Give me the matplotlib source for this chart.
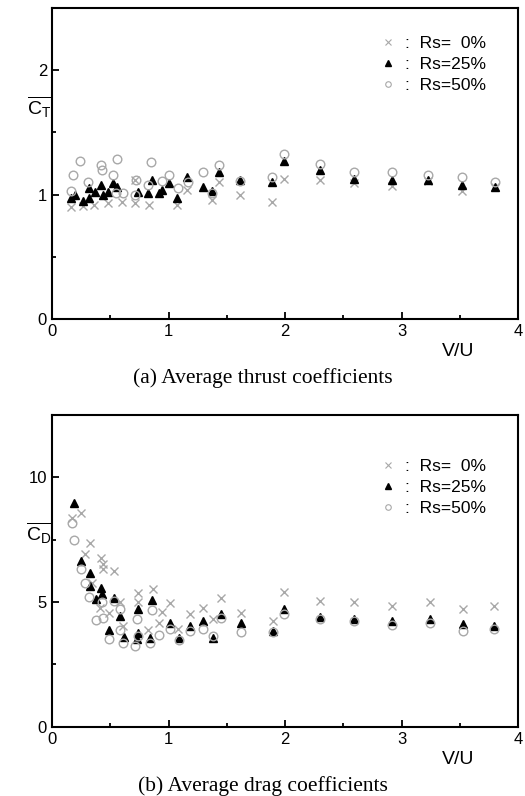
import matplotlib
matplotlib.use('Agg')
import matplotlib.pyplot as plt
from matplotlib.ticker import MultipleLocator

plt.rcParams['font.family'] = ['Liberation Sans', 'DejaVu Sans']
plt.rcParams['mathtext.fontset'] = 'custom'
plt.rcParams['mathtext.rm'] = 'Liberation Sans'
plt.rcParams['mathtext.it'] = 'Liberation Sans'

# (a) average thrust coefficient vs V/U
ct_v0 = [0.16, 0.27, 0.36, 0.48, 0.60, 0.71, 0.71, 0.83, 1.07, 1.16, 1.37, 1.43,
         1.61, 1.89, 1.99, 2.30, 2.59, 2.92, 3.23, 3.52, 3.80]
ct_0 = [0.90, 0.91, 0.92, 0.93, 0.94, 0.93, 1.12, 0.92, 0.92, 1.04, 0.96, 1.10,
        1.00, 0.94, 1.13, 1.12, 1.09, 1.07, 1.11, 1.03, 1.06]
ct_v25 = [0.16, 0.20, 0.27, 0.32, 0.32, 0.37, 0.42, 0.44, 0.48, 0.52, 0.56, 0.74,
          0.82, 0.86, 0.92, 0.94, 1.00, 1.07, 1.16, 1.30, 1.37, 1.43, 1.61, 1.89,
          1.99, 2.30, 2.59, 2.92, 3.23, 3.52, 3.80]
ct_25 = [0.97, 1.00, 0.95, 0.97, 1.05, 1.02, 1.08, 1.00, 1.02, 1.09, 1.06, 1.02,
         1.01, 1.12, 1.01, 1.04, 1.09, 0.97, 1.14, 1.06, 1.03, 1.18, 1.12, 1.10,
         1.27, 1.20, 1.13, 1.12, 1.12, 1.08, 1.06]
ct_v50 = [0.16, 0.18, 0.24, 0.31, 0.42, 0.43, 0.52, 0.56, 0.55, 0.61, 0.71, 0.72,
          0.85, 0.82, 0.94, 1.00, 1.08, 1.17, 1.30, 1.37, 1.43, 1.61, 1.89, 1.99,
          2.30, 2.59, 2.92, 3.23, 3.52, 3.80]
ct_50 = [1.03, 1.16, 1.27, 1.10, 1.24, 1.20, 1.16, 1.29, 1.01, 1.01, 1.00, 1.12,
         1.26, 1.08, 1.11, 1.16, 1.05, 1.10, 1.18, 1.01, 1.24, 1.11, 1.14, 1.33,
         1.25, 1.18, 1.18, 1.16, 1.14, 1.10]

# (b) average drag coefficient vs V/U
cd_v0 = [0.17, 0.25, 0.28, 0.33, 0.34, 0.41, 0.42, 0.44, 0.44, 0.49, 0.53, 0.58,
         0.61, 0.74, 0.74, 0.82, 0.87, 0.92, 0.94, 1.01, 1.08, 1.18, 1.30, 1.38,
         1.45, 1.62, 1.90, 1.99, 2.30, 2.59, 2.92, 3.24, 3.53, 3.79]
cd_0 = [8.38, 8.55, 6.91, 7.35, 5.77, 4.77, 6.77, 6.51, 6.31, 4.57, 6.24, 4.99,
        4.03, 5.34, 5.00, 3.87, 5.50, 4.14, 4.59, 4.97, 3.92, 4.50, 4.77, 4.30,
        5.17, 4.57, 4.23, 5.41, 5.03, 4.99, 4.83, 4.99, 4.70, 4.83]
cd_v25 = [0.19, 0.25, 0.33, 0.33, 0.38, 0.42, 0.43, 0.49, 0.53, 0.58, 0.62, 0.73,
          0.74, 0.74, 0.84, 0.86, 1.01, 1.09, 1.18, 1.30, 1.38, 1.45, 1.62, 1.90,
          1.99, 2.30, 2.59, 2.92, 3.24, 3.53, 3.79]
cd_25 = [8.98, 6.64, 6.17, 5.63, 5.10, 5.57, 5.30, 3.87, 5.17, 4.43, 3.60, 3.50,
         4.70, 3.76, 3.56, 5.07, 4.16, 3.55, 4.03, 4.23, 3.56, 4.50, 4.14, 3.83,
         4.73, 4.39, 4.32, 4.23, 4.32, 4.10, 4.03]
cd_v50 = [0.17, 0.19, 0.25, 0.28, 0.32, 0.38, 0.43, 0.44, 0.49, 0.53, 0.58, 0.58,
          0.61, 0.71, 0.73, 0.74, 0.84, 0.86, 0.92, 1.01, 1.09, 1.18, 1.30, 1.38,
          1.45, 1.62, 1.90, 1.99, 2.30, 2.59, 2.92, 3.24, 3.53, 3.79]
cd_50 = [8.18, 7.48, 6.33, 5.77, 5.21, 4.27, 4.99, 4.37, 3.53, 5.03, 4.73, 3.87,
         3.36, 3.25, 4.30, 3.63, 3.36, 4.66, 3.69, 3.92, 3.49, 3.83, 3.90, 3.63,
         4.37, 3.80, 3.80, 4.50, 4.30, 4.23, 4.06, 4.14, 3.83, 3.90]

labels = [':  Rs=  0%', ':  Rs=25%', ':  Rs=50%']
gray = '#a8a8a8'


def draw(ax, series, ymax, ystep, ylabel, ylab_y, caption, leg_y):
    (v0, y0), (v25, y25), (v50, y50) = series
    ax.plot(v0, y0, ls='none', marker='x', ms=6.2, mew=1.0, color=gray)
    ax.plot(v25, y25, ls='none', marker='^', ms=6.2, color='black', mec='black')
    ax.plot(v50, y50, ls='none', marker='o', ms=6.2, mfc='none', mec=gray, mew=1.0)
    ax.set_xlim(0, 4)
    ax.set_ylim(0, ymax)
    ax.xaxis.set_major_locator(MultipleLocator(1))
    ax.xaxis.set_minor_locator(MultipleLocator(0.5))
    ax.yaxis.set_major_locator(MultipleLocator(ystep))
    ax.yaxis.set_minor_locator(MultipleLocator(ystep / 2))
    ax.set_yticks([0, ystep, 2 * ystep])
    ax.tick_params(which='both', direction='in', labelsize=12, width=1.3)
    ax.tick_params(which='major', length=5)
    ax.tick_params(which='minor', length=3)
    for s in ax.spines.values():
        s.set_linewidth(1.5)
    ax.text(-0.027, ylab_y, ylabel, transform=ax.transAxes, fontsize=14,
            ha='center', va='center')
    ax.text(0.871, -0.105, 'V/U', transform=ax.transAxes, fontsize=14,
            ha='center', va='center')
    ax.text(0.453, -0.19, caption, transform=ax.transAxes, fontsize=15.5,
            family='Liberation Serif', ha='center', va='center')

    # legend: small markers followed by ": Rs=.."
    h0, = ax.plot([], [], ls='none', marker='x', ms=4, mew=0.8, color=gray)
    h1, = ax.plot([], [], ls='none', marker='^', ms=4, color='black')
    h2, = ax.plot([], [], ls='none', marker='o', ms=4, mfc='none', mec=gray, mew=0.8)
    ax.legend([h0, h1, h2], labels, loc='upper right', frameon=False,
              fontsize=12.5, handlelength=0.8, handletextpad=0.6,
              labelspacing=0.35, bbox_to_anchor=(0.965, leg_y))


fig = plt.figure(figsize=(5.25, 7.96), dpi=100)
ax1 = fig.add_axes([0.099, 0.599, 0.888, 0.391])
ax2 = fig.add_axes([0.099, 0.087, 0.888, 0.392])

draw(ax1, [(ct_v0, ct_0), (ct_v25, ct_25), (ct_v50, ct_50)], 2.5, 1,
     r'$\overline{\mathrm{C_T}}$', 0.68, '(a) Average thrust coefficients', 0.961)
draw(ax2, [(cd_v0, cd_0), (cd_v25, cd_25), (cd_v50, cd_50)], 12.5, 5,
     r'$\overline{\mathrm{C_D}}$', 0.62, '(b) Average drag coefficients', 0.91)

fig.savefig('out.png', dpi=100)
